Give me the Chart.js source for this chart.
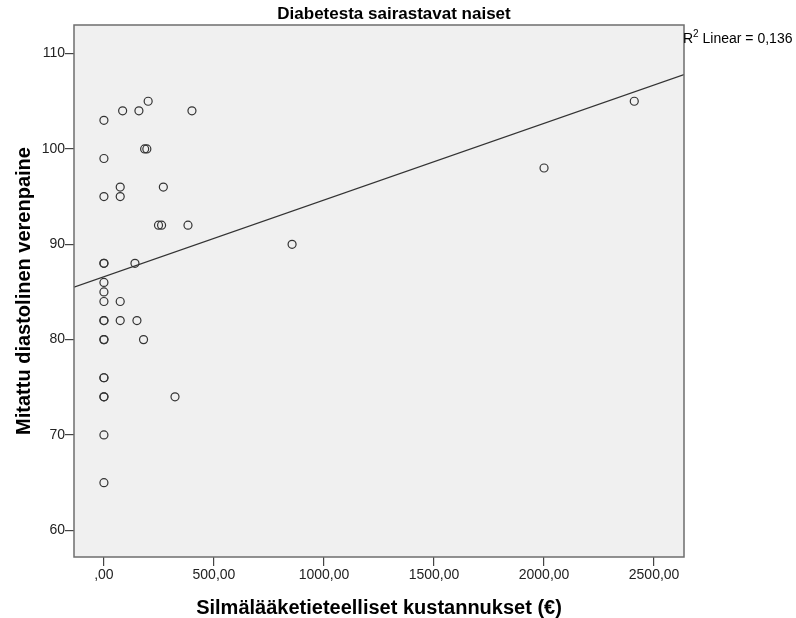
<!DOCTYPE html>
<html>
<head>
<meta charset="utf-8">
<script src="https://cdn.jsdelivr.net/npm/chart.js@4"></script>
<style>
  body { margin: 0; background: #fff; }
</style>
</head>
<body>
<canvas id="chart" width="796" height="618"></canvas>
<script>
// costs (x) and measured diastolic pressure (y)
const costs = [0, 85, 159, 201, 400, 185, 195, 0, 74, 0, 74, 270, 248, 262, 382,
  0, 0, 141, 0, 0, 0, 74, 0, 0, 74, 150, 0, 0, 180, 0, 0, 0, 0, 323, 0, 0,
  855, 2000, 2410];
const pressure = [103, 104, 104, 105, 104, 100, 100, 99, 96, 95, 95, 96, 92, 92, 92,
  88, 88, 88, 86, 85, 84, 84, 82, 82, 82, 82, 80, 80, 80, 76, 76, 74, 74, 74, 70, 65,
  90, 98, 105];
const fitX = [-136, 2636];
const fitY = [85.5, 107.8];
const xTicks = [0, 500, 1000, 1500, 2000, 2500];
const yTicks = [60, 70, 80, 90, 100, 110];
const rSquared = "0,136";

const font = "'Liberation Sans', Arial, sans-serif";

const points = costs.map((c, i) => ({ x: c, y: pressure[i] }));
const fitLine = fitX.map((x, i) => ({ x: x, y: fitY[i] }));

const fmt = v => (v === 0 ? "" : String(v)) + ",00";

const framePlugin = {
  id: "frame",
  beforeDraw(chart) {
    const { ctx, chartArea: a } = chart;
    ctx.save();
    ctx.fillStyle = "#f0f0f0";
    ctx.fillRect(a.left, a.top, a.right - a.left, a.bottom - a.top);
    ctx.restore();
  },
  afterDraw(chart) {
    const { ctx, chartArea: a } = chart;
    ctx.save();
    ctx.strokeStyle = "#6e6e6e";
    ctx.lineWidth = 1.5;
    ctx.strokeRect(a.left, a.top, a.right - a.left, a.bottom - a.top);
    // title, centred on the whole picture
    ctx.fillStyle = "#000";
    ctx.font = "bold 17px " + font;
    ctx.textAlign = "center";
    ctx.textBaseline = "middle";
    ctx.fillText("Diabetesta sairastavat naiset", 394, 14);
    // R squared
    ctx.textAlign = "left";
    ctx.font = "14px " + font;
    let x = a.right - 1;
    const y = 39;
    ctx.fillText("R", x, y);
    x += ctx.measureText("R").width;
    ctx.font = "10px " + font;
    ctx.fillText("2", x, y - 5);
    x += ctx.measureText("2").width;
    ctx.font = "14px " + font;
    ctx.fillText(" Linear = " + rSquared, x, y);
    ctx.restore();
  }
};

new Chart(document.getElementById("chart"), {
  type: "scatter",
  data: {
    datasets: [
      {
        data: points,
        pointRadius: 4,
        pointHoverRadius: 4,
        pointBackgroundColor: "rgba(0,0,0,0)",
        pointBorderColor: "#333",
        pointBorderWidth: 1.2
      },
      {
        type: "line",
        data: fitLine,
        borderColor: "#333",
        borderWidth: 1.2,
        pointRadius: 0,
        fill: false
      }
    ]
  },
  options: {
    responsive: false,
    animation: false,
    layout: { padding: { top: 25, right: 112, left: 0, bottom: 0 } },
    plugins: { legend: { display: false }, tooltip: { enabled: false } },
    scales: {
      x: {
        type: "linear",
        min: -136,
        max: 2636,
        afterBuildTicks: s => { s.ticks = xTicks.map(v => ({ value: v })); },
        afterFit: s => { s.height = 61; },
        grid: { drawOnChartArea: false, drawTicks: true, tickLength: 9, color: "#444", lineWidth: 1.2 },
        border: { display: false },
        ticks: { callback: fmt, color: "#222", font: { family: font, size: 14 }, padding: 1 },
        title: {
          display: true,
          text: "Silmälääketieteelliset kustannukset (€)",
          color: "#000",
          font: { family: font, size: 20, weight: "bold", lineHeight: 1.0 },
          padding: { top: 0, bottom: 0 }
        }
      },
      y: {
        min: 57.2,
        max: 113,
        afterBuildTicks: s => { s.ticks = yTicks.map(v => ({ value: v })); },
        afterFit: s => { s.width = 74; },
        grid: { drawOnChartArea: false, drawTicks: true, tickLength: 9, color: "#444", lineWidth: 1.2 },
        border: { display: false },
        ticks: { color: "#222", font: { family: font, size: 14 }, padding: 0 },
        title: {
          display: true,
          text: "Mitattu diastolinen verenpaine",
          color: "#000",
          font: { family: font, size: 20, weight: "bold", lineHeight: 1.0 },
          padding: { top: 14, bottom: 0 }
        }
      }
    }
  },
  plugins: [framePlugin]
});
</script>
</body>
</html>
